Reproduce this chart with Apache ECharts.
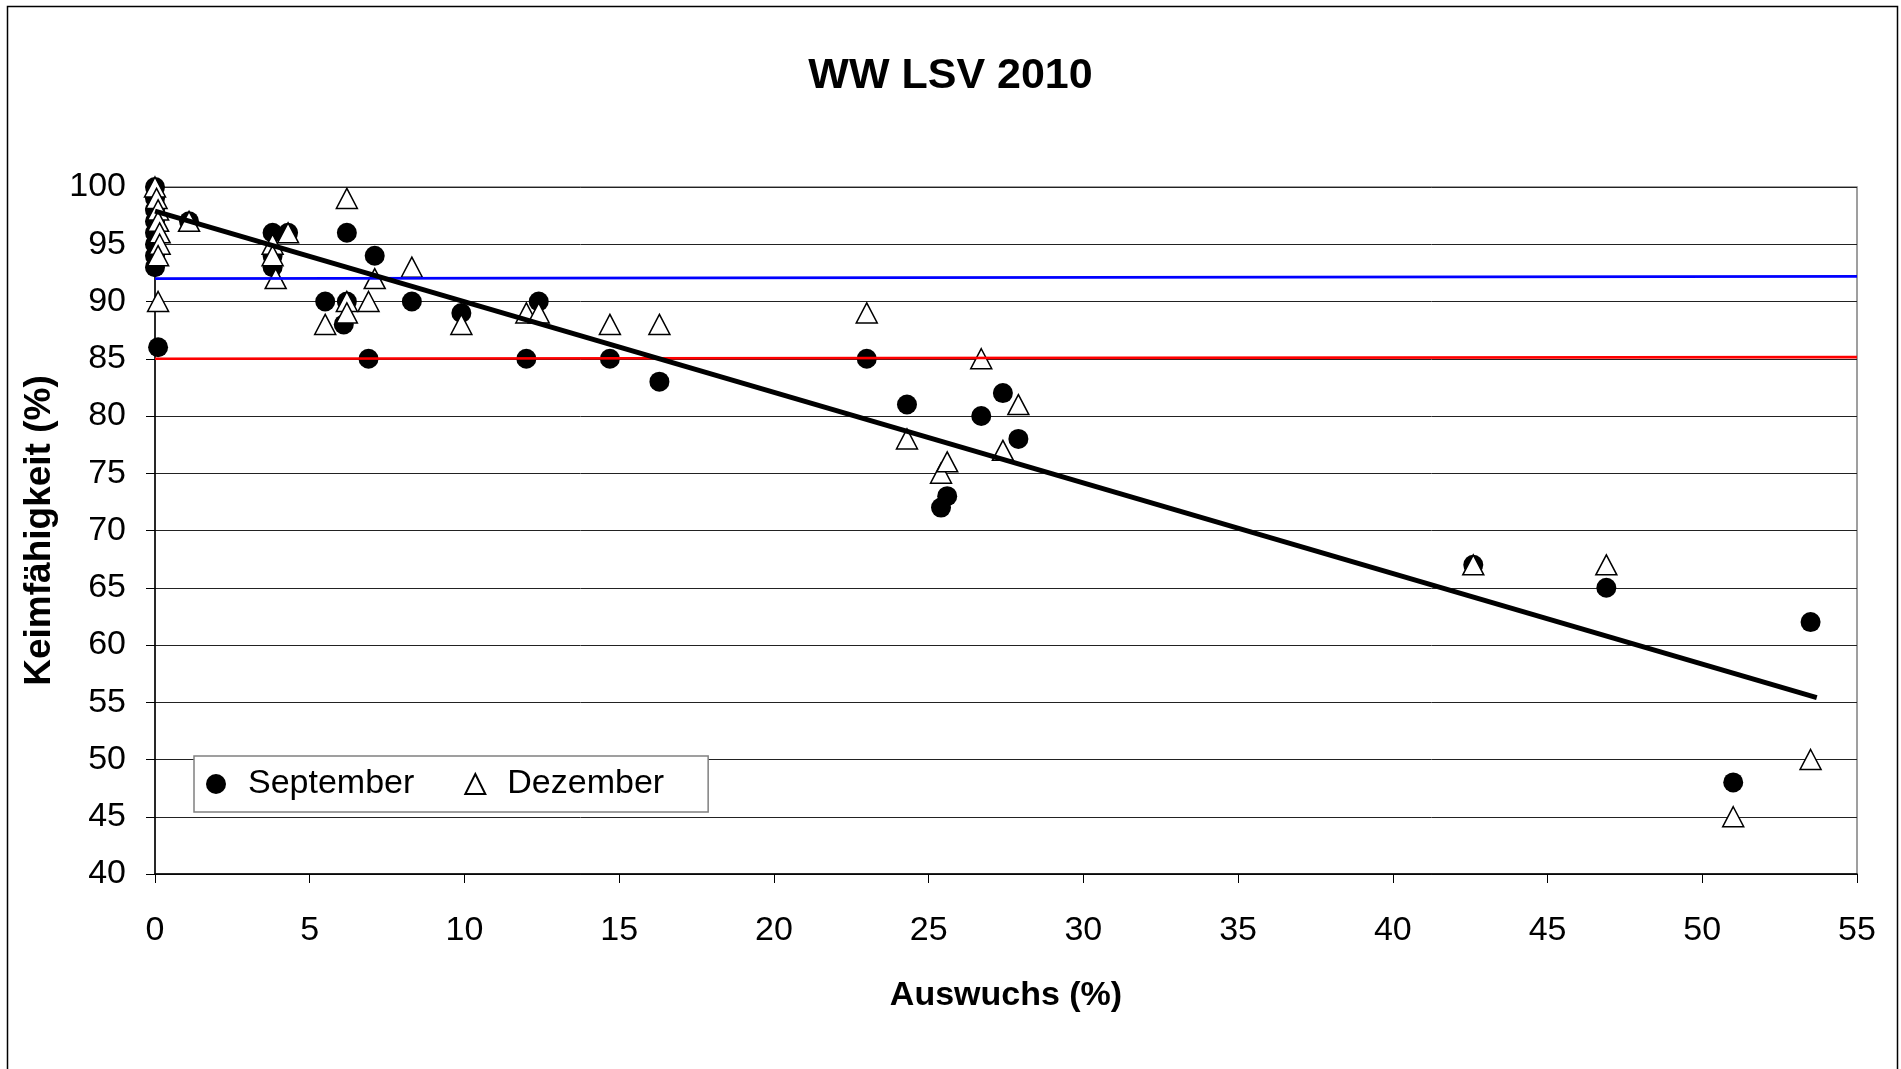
<!DOCTYPE html>
<html>
<head>
<meta charset="utf-8">
<title>WW LSV 2010</title>
<script src="https://cdn.jsdelivr.net/npm/echarts@6/dist/echarts.min.js"></script>
<style>
  html, body { margin: 0; padding: 0; background: #fff; }
  #chart { width: 1901px; height: 1069px; }
</style>
</head>
<body>
<div id="chart"></div>
<script>
// Daten: Auswuchs (%) / Keimfähigkeit (%)
const septX = [0, 0, 0, 0, 0, 0, 0, 0, 0.1, 1.1, 3.8, 4.3, 3.8, 3.8, 6.2, 7.1, 5.5, 6.2, 6.1, 6.9, 8.3, 9.9, 12.0, 12.4, 14.7, 16.3, 23.0, 24.3, 25.6, 25.4, 26.7, 27.4, 27.9, 42.6, 46.9, 53.5, 51.0]
const septY = [100, 99, 98, 97, 96, 95, 94, 93, 86, 97, 96, 96, 94, 93, 96, 94, 90, 90, 88, 85, 90, 89, 85, 90, 85, 83, 85, 81, 73, 72, 80, 82, 78, 67, 65, 62, 48]

const dezX = [0, 0.05, 0.1, 0.1, 0.15, 0.15, 0.1, 0.1, 1.1, 3.8, 3.8, 3.9, 4.3, 6.2, 5.5, 6.2, 6.2, 6.9, 7.1, 8.3, 9.9, 12.0, 12.4, 14.7, 16.3, 23.0, 24.3, 25.4, 25.6, 26.7, 27.4, 27.9, 42.6, 46.9, 51.0, 53.5]
const dezY = [100, 99, 98, 97, 96, 95, 94, 90, 97, 95, 94, 92, 96, 99, 88, 90, 89, 90, 92, 93, 88, 89, 89, 88, 88, 89, 78, 75, 76, 85, 77, 81, 67, 67, 45, 50]

// Linien (Trend, Grenzwerte)
const trendX = [0, 53.7]
const trendY = [97.9, 55.4]
const blueX = [0, 55]
const blueY = [92.0, 92.2]
const redX = [0, 55]
const redY = [85.0, 85.15]

const xTicks = { min: 0, max: 55, step: 5 }
const yTicks = { min: 40, max: 100, step: 5 }

const pairs = (xs, ys) => xs.map((x, i) => [x, ys[i]])
const font = 'Liberation Sans, Arial, sans-serif'

const chart = echarts.init(document.getElementById('chart'))
const option = {
  animation: false,
  backgroundColor: '#fff',
  textStyle: { fontFamily: font, color: '#000' },
  title: {
    text: 'WW LSV 2010',
    left: 'center',
    top: 50,
    textStyle: { fontFamily: font, fontSize: 43, fontWeight: 'bold', color: '#000' },
  },
  graphic: [
    {
      // Rahmen um das Diagramm
      type: 'rect',
      shape: { x: 7.5, y: 6.5, width: 1890, height: 1080 },
      style: { fill: 'none', stroke: '#000', lineWidth: 1.5 },
      silent: true,
    },
  ],
  legend: {
    left: 194,
    top: 756,
    orient: 'horizontal',
    data: ['September', 'Dezember'],
    itemWidth: 20,
    itemHeight: 20,
    itemGap: 50,
    padding: [11, 44, 11, 12],
    backgroundColor: '#fff',
    borderColor: '#808080',
    borderWidth: 1.5,
    textStyle: { fontFamily: font, fontSize: 34, color: '#000', padding: [0, 0, 0, 17] },
  },
  grid: { left: 155, right: 44, top: 187, bottom: 195, show: true, borderColor: '#808080', borderWidth: 1.5 },
  xAxis: {
    type: 'value',
    min: xTicks.min,
    max: xTicks.max,
    interval: xTicks.step,
    name: 'Auswuchs (%)',
    nameLocation: 'middle',
    nameGap: 105,
    nameTextStyle: { fontFamily: font, fontSize: 34, fontWeight: 'bold', color: '#000' },
    axisLine: { lineStyle: { color: '#000', width: 1.5 } },
    axisTick: { show: true, length: 9, lineStyle: { color: '#000' } },
    axisLabel: { fontSize: 34, color: '#000', margin: 40 },
    splitLine: { show: false },
  },
  yAxis: {
    type: 'value',
    min: yTicks.min,
    max: yTicks.max,
    interval: yTicks.step,
    name: 'Keimfähigkeit (%)',
    nameLocation: 'middle',
    nameGap: 93,
    nameTextStyle: { fontFamily: font, fontSize: 37, fontWeight: 'bold', color: '#000' },
    axisLine: { show: true, lineStyle: { color: '#000', width: 1.5 } },
    axisTick: { show: true, length: 9, lineStyle: { color: '#000' } },
    axisLabel: { fontSize: 34, color: '#000', margin: 29 },
    splitLine: { show: true, lineStyle: { color: '#222', width: 1 } },
  },
  series: [
    {
      name: 'September',
      type: 'scatter',
      symbol: 'circle',
      symbolSize: 20,
      itemStyle: { color: '#000', opacity: 1 },
      data: pairs(septX, septY),
    },
    {
      name: 'Dezember',
      type: 'scatter',
      symbol: 'triangle',
      symbolSize: [21, 20],
      itemStyle: { color: '#fff', borderColor: '#000', borderWidth: 1.5, opacity: 1 },
      data: pairs(dezX, dezY),
    },
    {
      name: 'blau',
      type: 'line',
      symbol: 'none',
      lineStyle: { color: '#0000ff', width: 2.7 },
      data: pairs(blueX, blueY),
    },
    {
      name: 'rot',
      type: 'line',
      symbol: 'none',
      lineStyle: { color: '#ff0000', width: 2.7 },
      data: pairs(redX, redY),
    },
    {
      name: 'Trend',
      type: 'line',
      symbol: 'none',
      lineStyle: { color: '#000', width: 5 },
      data: pairs(trendX, trendY),
    },
  ],
}
chart.setOption(option)
</script>
</body>
</html>
